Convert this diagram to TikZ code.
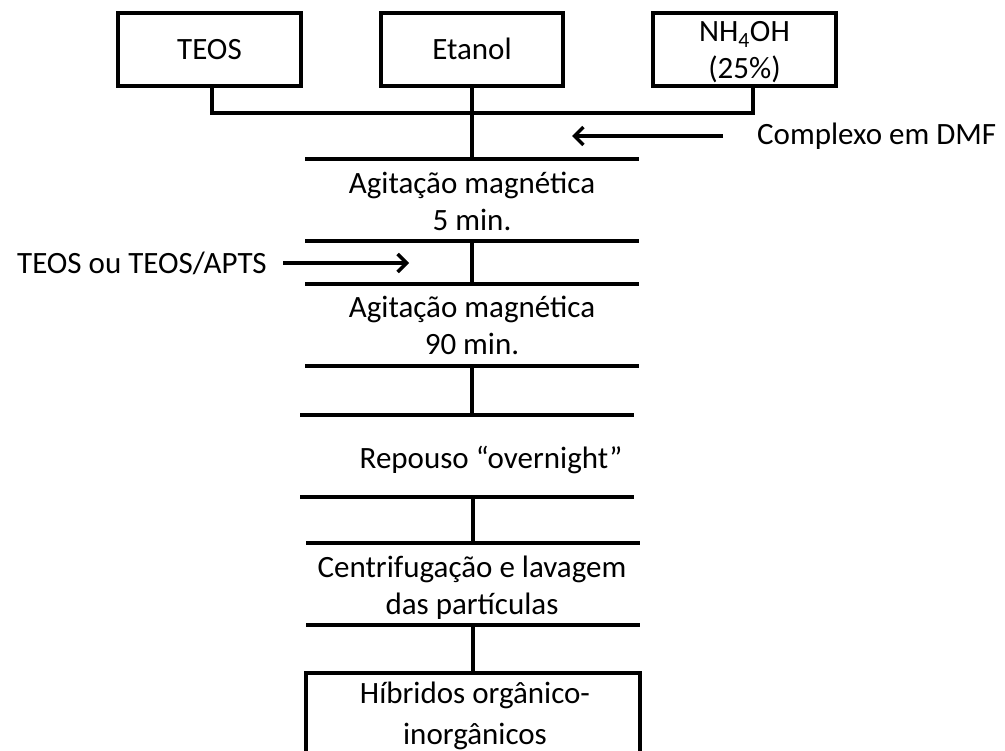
\documentclass[tikz,border=0pt]{standalone}
\usepackage{fontspec}
\setmainfont{Carlito}
\usetikzlibrary{arrows.meta}
\begin{document}
\begin{tikzpicture}[x=1pt,y=-1pt,
  every node/.style={font=\fontsize{31}{37}\selectfont, align=center, inner sep=0pt},
  thick line/.style={line width=3.5pt},
  bar/.style={line width=3.5pt},
  inbox/.style={draw, line width=3.5pt, minimum height=73pt},
  feed/.style={line width=3.5pt, -{Straight Barb[length=9pt,width=18pt,line width=3.5pt]}}]
\useasboundingbox (0,0) rectangle (1005,751);
\clip (0,0) rectangle (1005,751);

% reagent boxes and their labels
\node[inbox, minimum width=183pt] (teos) at (209.5,49.5) {};
\node[inbox, minimum width=182pt] (etanol) at (472,49.5) {};
\node[inbox, minimum width=183pt] (nh) at (744.5,49.5) {};
\node[anchor=base] (teostxt) at (teos.center |- 0,60) {TEOS};
\node[anchor=base] (etanoltxt) at (etanol.center |- 0,60) {Etanol};
\node (nhtxt) at ([yshift=-3pt]nh.center) {NH\textsubscript{4}OH\\(25\%)};

% stage bars
\coordinate (b1l) at (305,159); \coordinate (b1r) at (639,159);
\coordinate (b2l) at (305,241); \coordinate (b2r) at (639,241);
\coordinate (b3l) at (305,284); \coordinate (b3r) at (639,284);
\coordinate (b4l) at (305,366); \coordinate (b4r) at (639,366);
\coordinate (b5l) at (300,415); \coordinate (b5r) at (634,415);
\coordinate (b6l) at (300,497); \coordinate (b6r) at (634,497);
\coordinate (b7l) at (306,543); \coordinate (b7r) at (640,543);
\coordinate (b8l) at (306,625); \coordinate (b8r) at (640,625);
\foreach \i in {1,...,8} {\draw[bar] (b\i l) -- (b\i r);}

% stage labels
\node (ag1) at (472,201) {Agitação magnética\\5 min.};
\node (ag2) at (472,325) {Agitação magnética\\90 min.};
\node (rep) at (491,460) {Repouso “overnight”};
\node (cent) at (472,588) {Centrifugação e lavagem\\das partículas};

% product box
\draw[thick line] (306,800) |- (640,673) coordinate (prodtop) -- (640,800);
\node[font=\fontsize{31}{41}\selectfont] (prod) at (475,716) {Híbridos orgânico-\\inorgânicos};

% joining the reagents
\coordinate (busR) at (753,113);
\draw[thick line] ([xshift=2.5pt]teos.south) |- (busR) -- ([xshift=8.5pt]nh.south);
\draw[thick line] (etanol.south) -- (etanol.south |- b1l);

% vertical links between stages
\draw[thick line] (472,241) -- (472,284);
\draw[thick line] (472,368) -- (472,415);
\draw[thick line] (473,497) -- (473,543);
\draw[thick line] (473,625) -- (473,673);

% side additions
\node[anchor=west] (dmf) at (757,136) {Complexo em DMF};
\coordinate (dmftip) at (572,136);
\draw[feed] ([xshift=-34pt]dmf.west) -- (dmftip);

\node[anchor=east] (apts) at (267,263) {TEOS ou TEOS/APTS};
\coordinate (aptstip) at (409,263);
\draw[feed] ([xshift=16pt]apts.east) -- (aptstip);
\end{tikzpicture}
\end{document}
